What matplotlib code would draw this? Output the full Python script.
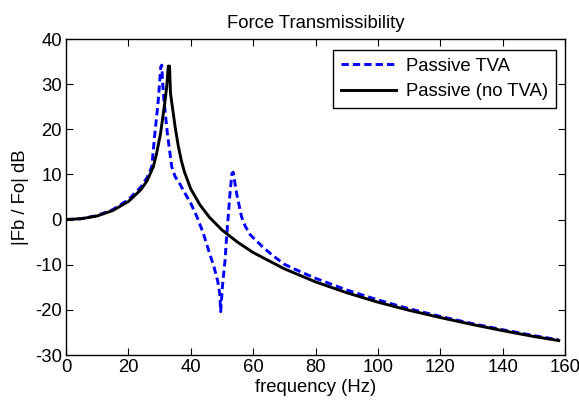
import matplotlib
matplotlib.use("Agg")
import matplotlib.pyplot as plt

# Passive (no TVA)
freq_passive = [0, 5, 10, 15, 20, 24, 26, 28, 29, 30.3, 31.7, 32.3, 32.8, 33.2,
                33.5, 34, 35, 36, 37, 38, 40, 43, 46, 50, 55, 60, 70, 80, 90,
                100, 110, 120, 130, 140, 150, 158]
db_passive = [0, 0.2, 0.8, 2.0, 4.0, 6.6, 8.6, 11.7, 14.5, 19.0, 26.0, 29.5, 34.0, 34.0,
              28.0, 25.5, 20.5, 16.3, 13.0, 10.5, 6.8, 3.2, 0.5, -2.3, -5.0, -7.3, -10.9,
              -13.8, -16.2, -18.3, -20.1, -21.7, -23.2, -24.6, -25.9, -26.8]

# Passive TVA
freq_tva = [0, 5, 10, 15, 20, 24, 26, 27.5, 28.5, 29.6, 30.4, 30.7, 31.0, 31.4,
            32.5, 33.9, 35, 36.5, 38, 40, 42, 44, 46, 47.5, 48.7, 49.3, 49.6,
            50.2, 51, 51.5, 52, 52.6, 53.2, 53.6, 54.7, 56.3, 57.5, 59, 61, 63, 66,
            70, 75, 80, 90, 100, 110, 120, 130, 140, 150, 158]
db_tva = [0, 0.2, 0.9, 2.2, 4.4, 7.2, 9.3, 11.7, 19.1, 26.5, 33.9, 34.2, 30.2, 26.5,
          19.1, 11.7, 9.5, 7.9, 6.0, 3.6, 0.6, -3.0, -7.4, -10.6, -13.8, -16.5, -20.4,
          -14.5, -9.0, -3.8, 0.6, 6.0, 10.2, 10.5, 5.8, 0.6, -1.5, -3.3, -4.7, -6.0, -7.8,
          -9.9, -11.5, -13.0, -15.6, -17.8, -19.75, -21.45, -23.0, -24.4, -25.7, -26.65]

x_ticks = [0, 20, 40, 60, 80, 100, 120, 140, 160]
y_ticks = [-30, -20, -10, 0, 10, 20, 30, 40]

plt.rcParams['font.family'] = ['Liberation Sans', 'DejaVu Sans']
plt.rcParams['font.size'] = 13.3
plt.rcParams['axes.unicode_minus'] = False

fig = plt.figure(figsize=(5.79, 4.05), dpi=100)
ax = fig.add_axes([66 / 579, 1 - 355 / 405, 499 / 579, 316 / 405])

ax.plot(freq_tva, db_tva, color='#0000ff', linestyle='--', dashes=(2.5, 1.4),
        linewidth=2.1, label='Passive TVA')
ax.plot(freq_passive, db_passive, color='k', linewidth=2.1, label='Passive (no TVA)')

ax.set_xlim(0, 160)
ax.set_ylim(-30, 40)
ax.set_xticks(x_ticks)
ax.set_yticks(y_ticks)
ax.tick_params(direction='in', top=True, right=True, length=5, width=0.8, pad=3)
for sp in ax.spines.values():
    sp.set_linewidth(1.0)

ax.set_title('Force Transmissibility', fontsize=13.3, pad=8)
ax.set_xlabel('frequency (Hz)', labelpad=2)
ax.set_ylabel('|Fb / Fo| dB', labelpad=4)

leg = ax.legend(loc='upper right', bbox_to_anchor=(0.982, 0.965), fancybox=False,
                framealpha=1, edgecolor='k', handlelength=3.0, handletextpad=0.55,
                borderpad=0.42, labelspacing=0.45, borderaxespad=0)
leg.get_frame().set_linewidth(1.0)

fig.savefig('out.png', dpi=100)
